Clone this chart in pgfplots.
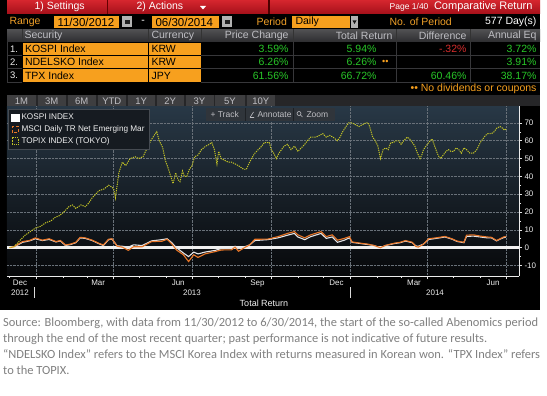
\documentclass[border=0pt]{standalone}
\usepackage{fontspec}
\setmainfont{Liberation Sans}
\newfontfamily\capfont{Carlito}
\usepackage{pgfplots}
\usepackage{pgfplotstable}
\pgfplotsset{compat=1.18}
\definecolor{bbredtop}{RGB}{214,38,46}
\definecolor{bbredbot}{RGB}{165,16,26}
\definecolor{bborange}{RGB}{247,160,30}
\definecolor{bbotext}{RGB}{240,160,40}
\definecolor{bbgreen}{RGB}{40,200,40}
\definecolor{bbneg}{RGB}{215,45,45}
\definecolor{hdrtop}{RGB}{80,80,82}
\definecolor{hdrbot}{RGB}{45,45,48}
\definecolor{btnbar}{RGB}{38,38,40}
\definecolor{btn}{RGB}{62,62,64}
\definecolor{btntext}{RGB}{190,190,195}
\definecolor{plottop}{RGB}{40,56,70}
\definecolor{plotmid}{RGB}{18,25,32}
\definecolor{plotbot}{RGB}{7,8,10}
\definecolor{gridc}{RGB}{105,113,121}
\definecolor{kospi}{RGB}{228,228,230}
\definecolor{msci}{RGB}{232,118,40}
\definecolor{topix}{RGB}{196,196,38}
\definecolor{capgray}{RGB}{128,128,128}
\definecolor{sepc}{RGB}{55,55,58}
\definecolor{legfill}{RGB}{22,27,33}
\definecolor{legdraw}{RGB}{70,75,82}
\definecolor{toolfill}{RGB}{48,53,59}
\definecolor{toolsep}{RGB}{30,33,37}

% day 0 = 11/30/2012
\pgfplotstableread{
d v
0 0
5 0.3
15 3
23 3.8
30 5
38 4
46 4.6
54 3.2
59 3.8
65 1.2
71 1.8
77 2.8
82 5.5
88 5.2
96 4
104 2.2
109 1.2
115 4.5
119 4.8
125 1
131 0.8
138 0.3
144 1.6
154 1.2
165 3.8
177 4.5
183 5
188 3
194 0
202 -3
208 -5
214 -2.5
219 -3.5
227 -2.5
239 -1.5
246 -0.5
258 -0.3
262 0.8
266 -0.5
273 0.5
279 1.5
285 4
300 4.5
312 5.5
323 7
331 8
335 6
343 4.5
350 6.2
362 8
368 5.2
375 6
381 3
389 4.2
395 5.5
398 3
408 2.3
416 1.8
423 1.2
431 0
437 1.2
447 2.3
454 2.8
460 3.7
468 2.8
472 1
475 0.8
481 2
487 4.6
497 5.3
506 6
514 4.8
520 3.5
528 2.8
531 6.3
539 6.5
547 6
555 5.5
560 5.5
566 3.8
570 4.8
574 5.6
577 5.94
}\kospi

\pgfplotstableread{
d v
0 0
5 0.5
15 3.4
23 4
30 5.5
38 4.2
46 5
54 3.4
59 4
65 1.5
71 2
77 3
82 5.8
88 5.5
96 4.2
104 2.4
109 1.5
115 4.7
119 5
125 0.8
131 0.3
138 -1.5
144 0.5
154 0.5
165 3.4
177 3.6
183 4.7
188 2.4
194 -1.3
202 -4
208 -7.8
214 -4
219 -5.5
227 -3.5
239 -2.2
246 -1.3
258 -1.2
262 0.3
266 -2
273 0
279 1.6
285 4.7
300 4.8
312 6.2
323 8
331 9
335 7.2
343 5.5
350 7.2
362 9
368 6.2
375 7.2
381 4.2
389 5.2
395 6.2
398 3.2
408 2.5
416 2
423 1.3
431 0
437 1.3
447 2.5
454 3
460 4
468 3
472 0.7
475 0.3
481 2
487 5
497 5.6
506 6.3
514 5
520 3.7
528 3
531 7
539 7.2
547 6.5
555 6
560 5.8
566 4
570 5
574 6
577 6.26
}\msci

\pgfplotstableread{
d v
0 0
5 0.5
10 3
18 7
24 9
30 11
36 12
42 14
48 15
53 17
58 18
63 20
69 23
73 24
77 22
83 24
88 23
92 25
96 28
100 30
104 32
110 33
115 35
119 34
121 33
123 28
127 42
131 48
135 46
140 50
146 51
150 50
155 51
160 56
164 60
168 63
171 65
174 60
178 56
181 49
184 45
186 42
190 36
193 42
196 38
198 37
201 43
203 40
206 40
209 44
212 46
215 51
219 52
223 55
228 57
232 58
235 59
238 55
241 47
243 54
246 50
250 49
254 48
258 48
262 47
266 46
269 45
272 44
275 44
278 47
281 50
285 53
289 55
293 57
296 59
300 59
302 59
304 55
307 53
310 50
313 53
316 55
319 57
323 58
327 55
331 57
335 54
339 56
343 58
346 60
350 62
356 62
360 63
364 64
368 62
372 63
376 62
381 60
384 62
387 65
391 68
394 70
398 70
402 69
406 68
410 69
414 70
417 70
419 67
422 62
425 60
428 57
431 50
434 55
437 56
440 55
443 59
446 59
449 60
452 60
455 58
458 60
462 62
465 61
468 59
471 57
474 53
477 50
479 52
481 55
484 57
487 59
491 61
494 57
497 53
499 51
501 50
504 52
507 54
510 55
513 54
516 54
519 56
522 55
525 53
528 56
531 55
535 53
539 53
543 55
547 59
550 61
553 63
556 64
560 64
563 65
566 67
570 68
573 67
575 66
577 66.5
}\topix

\newcommand{\ui}{\fontsize{10.5}{12}\selectfont}
\begin{document}
\begin{tikzpicture}
\useasboundingbox (0pt,0pt) rectangle (547pt,-396pt);
\begin{scope}[x=1pt,y=1pt]
\fill[white] (0,0) rectangle (547,-396);
\fill[black] (0,0) rectangle (540,-310);
% top red bar
\shade[top color=bbredtop, bottom color=bbredbot] (7,0) rectangle (540,-14);
\draw[black!60!red, line width=1pt] (107.5,0) -- (107.5,-14);
\draw[black!70!red, line width=1.5pt] (269,0) -- (269,-14);
\node[anchor=west, text=white, font=\ui] at (31,-7) {1) Settings};
\node[anchor=west, text=white, font=\ui] at (133,-7) {2) Actions};
\fill[white] (200,-6) -- (206,-6) -- (203,-9.5) -- cycle;
\node[anchor=east, text=white, font=\fontsize{8.5}{10}\selectfont] at (432,-7.5) {Page 1/40};
\node[anchor=east, text=white, font=\fontsize{11}{13}\selectfont] at (536,-7) {Comparative Return};
% second row
\node[anchor=west, text=bbotext, font=\ui] at (6,-22) {Range};
\fill[bborange] (54,-16) rectangle (119,-28);
\node[anchor=west, text=black, font=\fontsize{11.5}{13}\selectfont] at (54,-22) {11/30/2012};
\fill[gray!60] (122,-16.5) rectangle (132,-27.5);
\fill[gray!25!black] (124.5,-20) rectangle (129.5,-24);
\node[text=white, font=\ui] at (143,-22) {-};
\fill[bborange] (152,-16) rectangle (219,-28);
\node[anchor=west, text=black, font=\fontsize{11.5}{13}\selectfont] at (152,-22) {06/30/2014};
\fill[gray!60] (222,-16.5) rectangle (232,-27.5);
\fill[gray!25!black] (224.5,-20) rectangle (229.5,-24);
\node[anchor=west, text=bbotext, font=\ui] at (253,-22) {Period};
\fill[bborange] (292,-16) rectangle (350,-28);
\node[anchor=west, text=black, font=\ui] at (292,-22) {Daily};
\fill[gray!60] (351,-16) rectangle (358,-28);
\fill[gray!20!black] (352.5,-20.5) -- (356.5,-20.5) -- (354.5,-24) -- cycle;
\node[anchor=west, text=bbotext, font=\ui] at (386,-22) {No. of Period};
\node[anchor=east, text=white, font=\ui] at (540,-22) {577 Day(s)};
% table header
\shade[top color=hdrtop, bottom color=hdrbot] (7,-29.5) rectangle (540,-42);
\foreach \xx in {22,148,201,293,396,470}{\draw[black!80, line width=1pt] (\xx,-29.5) -- (\xx,-42);}
\node[anchor=west, text=btntext, font=\ui] at (21,-35.7) {Security};
\node[anchor=west, text=btntext, font=\ui] at (148,-35.7) {Currency};
\node[anchor=east, text=btntext, font=\ui] at (292,-35.7) {Price Change};
\node[anchor=east, text=btntext, font=\ui] at (396,-35.7) {Total Return};
\node[anchor=east, text=btntext, font=\ui] at (470,-35.7) {Difference};
\node[anchor=east, text=btntext, font=\ui] at (540,-35.7) {Annual Eq};
% table rows
\foreach \ya/\yb/\num/\sec/\cur/\pc/\tr/\an in {43/55/1./KOSPI Index/KRW/3.59\%/5.94\%/3.72\%, 56/68/2./NDELSKO Index/KRW/6.26\%/6.26\%/3.91\%, 69/82/3./TPX Index/JPY/61.56\%/66.72\%/38.17\%}{
  \fill[bborange] (22.5,-\ya) rectangle (147.5,-\yb);
  \fill[bborange] (149,-\ya) rectangle (200.5,-\yb);
  \draw[sepc, line width=0.8pt] (201,-\yb-0.5) -- (540,-\yb-0.5);
  \draw[sepc, line width=0.8pt] (7,-\yb-0.5) -- (22,-\yb-0.5);
  \node[anchor=east, text=white!85!gray, font=\fontsize{9.5}{11}\selectfont] at (21.5,-\ya/2-\yb/2) {\num};
  \node[anchor=west, text=black, font=\ui] at (21.5,-\ya/2-\yb/2) {\sec};
  \node[anchor=west, text=black, font=\ui] at (148,-\ya/2-\yb/2) {\cur};
  \node[anchor=east, text=bbgreen, font=\ui] at (292,-\ya/2-\yb/2) {\pc};
  \node[anchor=east, text=bbgreen, font=\ui] at (380,-\ya/2-\yb/2) {\tr};
  \node[anchor=east, text=bbgreen, font=\ui] at (540,-\ya/2-\yb/2) {\an};
}
\foreach \xx in {293,396,470}{\draw[sepc, line width=0.8pt] (\xx,-42) -- (\xx,-82.5);}
\draw[sepc, line width=0.8pt] (7,-42) -- (7,-82.5);
\node[anchor=east, text=bbneg, font=\ui] at (470,-49) {-.32\%};
\node[anchor=east, text=bbgreen, font=\ui] at (470,-75.5) {60.46\%};
\node[anchor=west, text=bborange, font=\fontsize{9}{10}\selectfont, inner xsep=1pt] at (381,-62) {\textbullet\textbullet};
\node[anchor=east, text=bborange, font=\ui] at (540,-89) {\textbullet\textbullet\ No dividends or coupons};
% range buttons
\fill[btnbar] (7,-95) rectangle (540,-106.5);
\foreach \xa/\xb/\lab in {7/36/1M, 37.5/66/3M, 67.5/96/6M, 97.5/126/YTD, 127.5/155/1Y, 156.5/184/2Y, 185.5/213.5/3Y, 215/245/5Y, 246.5/275/10Y}{
  \fill[btn] (\xa,-95.5) rectangle (\xb,-106);
  \node[text=btntext, font=\fontsize{9.5}{11}\selectfont] at (\xa/2+\xb/2,-100.8) {\lab};
}
\end{scope}

\begin{axis}[
  at={(7pt,-276pt)}, anchor=south west,
  scale only axis, width=512pt, height=170pt,
  xmin=-3, xmax=592, ymin=-15.9, ymax=79.5,
  axis x line=bottom, axis y line=right,
  axis line style={-, draw=white!85!gray, line width=0.8pt},
  axis background/.style={shade, top color=plottop, middle color=plotmid, bottom color=plotbot},
  xtick={31,121,212,304,396,486,577}, xticklabels={},
  minor xtick={0,62,90,151,182,243,274,335,365,427,455,516,547},
  extra x ticks={12,103,196,288,380,470,562},
  extra x tick labels={Dec,Mar,Jun,Sep,Dec,Mar,Jun},
  extra x tick style={grid=none, major tick length=0pt},
  ytick={-10,0,...,70}, minor y tick num=1,
  xmajorgrids, ymajorgrids,
  major grid style={densely dotted, gridc, line width=0.6pt},
  tick style={white!80!gray, line width=0.6pt},
  major tick length=3pt, minor tick length=2pt,
  tick align=outside,
  tick label style={font=\fontsize{8}{9}\selectfont, text=white!85!gray},
  yticklabel style={xshift=-1pt},
  /pgf/number format/assume math mode=true,
  legend style={at={(0.002,0.98)}, anchor=north west,
    fill=legfill, draw=legdraw,
    font=\fontsize{8.2}{9.5}\selectfont, text=white!88!gray,
    row sep=0.3pt, inner xsep=3pt, inner ysep=2.5pt},
  legend cell align=left,
]
\addplot[forget plot, line width=2.4pt, color=white!88!gray] coordinates {(-3,0) (592,0)};
\addplot[kospi, line width=1.1pt,
  legend image code/.code={\fill[white] (0pt,-3.6pt) rectangle (7.2pt,3.6pt);}]
  table[x=d,y=v] {\kospi};
\addlegendentry{KOSPI INDEX}
\addplot[msci, line width=1.1pt,
  legend image code/.code={\draw[msci, densely dashed, line width=0.9pt] (0.5pt,-3.2pt) rectangle (6.7pt,3.2pt);}]
  table[x=d,y=v] {\msci};
\addlegendentry{MSCI Daily TR Net Emerging Mar}
\addplot[topix, line width=1pt, dash pattern=on 1.2pt off 1pt,
  legend image code/.code={\draw[topix, densely dotted, line width=0.9pt] (0.5pt,-3.2pt) rectangle (6.7pt,3.2pt);}]
  table[x=d,y=v] {\topix};
\addlegendentry{TOPIX INDEX (TOKYO)}
\end{axis}

\begin{scope}[x=1pt,y=1pt]
% track / annotate / zoom
\fill[toolfill] (206,-108.5) rectangle (335,-121);
\draw[toolsep, line width=1pt] (245,-108.5) -- (245,-121);
\draw[toolsep, line width=1pt] (293,-108.5) -- (293,-121);
\node[anchor=west, text=btntext, font=\fontsize{8.5}{10}\selectfont] at (207,-114.8) {+ Track};
\draw[btntext, line width=0.6pt] (250,-117.5) -- (253.5,-112) (250,-117.5) -- (254,-117.5);
\node[anchor=west, text=btntext, font=\fontsize{8.5}{10}\selectfont] at (254,-114.8) {Annotate};
\draw[btntext, line width=0.6pt] (299,-113.5) circle (2pt) (300.5,-115) -- (302.5,-117);
\node[anchor=west, text=btntext, font=\fontsize{8.5}{10}\selectfont] at (303,-114.8) {Zoom};
% year labels
\node[text=white!85!gray, font=\fontsize{8}{9}\selectfont] at (20,-292.5) {2012};
\node[text=white!85!gray, font=\fontsize{8}{9}\selectfont] at (192,-292.5) {2013};
\node[text=white!85!gray, font=\fontsize{8}{9}\selectfont] at (435,-292.5) {2014};
\draw[white!70!gray, line width=0.6pt] (34,-287) -- (34,-298);
\draw[white!70!gray, line width=0.6pt] (350,-287) -- (350,-298);
\node[text=white!90!gray, font=\fontsize{9}{10}\selectfont] at (264,-303.5) {Total Return};
% caption
\begin{scope}[every node/.style={anchor=west, text=capgray, font=\capfont\fontsize{12.45}{14}\selectfont, inner xsep=0pt}]
\node at (3,-323.5) {Source: Bloomberg, with data from 11/30/2012 to 6/30/2014, the start of the so-called Abenomics period};
\node at (3,-339) {through the end of the most recent quarter; past performance is not indicative of future results.};
\node at (3,-354.5) {“NDELSKO Index” refers to the MSCI Korea Index with returns measured in Korean won. “TPX Index” refers};
\node at (3,-370) {to the TOPIX.};
\end{scope}
\end{scope}
\end{tikzpicture}
\end{document}
